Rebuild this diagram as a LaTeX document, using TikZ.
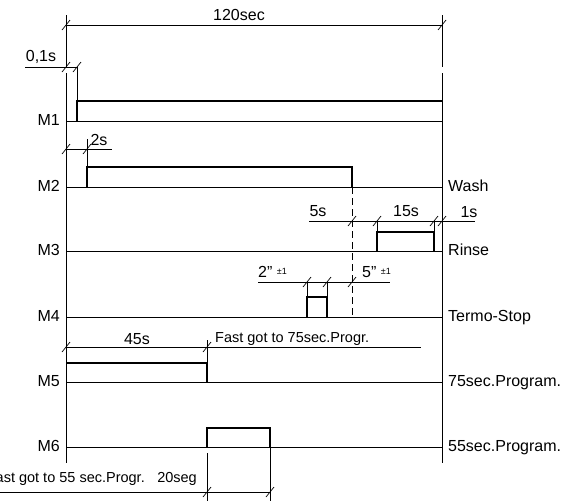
\documentclass[tikz,border=0pt]{standalone}
\usepackage{fontspec}
\setmainfont{Liberation Sans}
\usetikzlibrary{calc}

\tikzset{
  pulse/.style={line width=2.8pt, line join=miter},
  baseln/.style={line width=0.8pt},
  dimln/.style={line width=0.7pt},
  lbl/.style={font=\fontsize{16}{18}\selectfont, inner sep=0pt},
  note/.style={font=\fontsize{14.5}{17}\selectfont, inner sep=0pt},
}
\newcommand{\dimtick}[1]{\draw [dimln] ($(#1)+(-4,5)$) -- ($(#1)+(4,-5)$);}
\newcommand{\tolone}{\raisebox{2.5pt}{\fontsize{9}{10}\selectfont ±1}}

\begin{document}
\begin{tikzpicture}[x=1pt,y=-1pt]
\useasboundingbox (0,0) rectangle (584,501);

% frame
\coordinate (lt) at (66,15);
\coordinate (rt) at (442,15);
\coordinate (lb) at (66,463);
\coordinate (rb) at (442,463);
\draw [baseln] (lt) -- (66,67) (66,73) -- (lb);
\draw [baseln] (rt) -- (442,67) (442,73) -- (rb);

% signal lines
\foreach \i/\y in {1/121,2/187,3/251,4/317,5/382,6/447} {
  \coordinate (m\i) at (66,\y);
  \coordinate (e\i) at (442,\y);
  \draw [baseln] (m\i) -- (e\i);
  \node[lbl, anchor=base east] at ($(m\i)+(-6,4)$) {M\i};
}
\node[lbl, anchor=base west] at ($(e2)+(6,4)$) {Wash};
\node[lbl, anchor=base west] at ($(e3)+(6,4)$) {Rinse};
\node[lbl, anchor=base west] at ($(e4)+(6,4)$) {Termo-Stop};
\node[lbl, anchor=base west] at ($(e5)+(6,4)$) {75sec.Program.};
\node[lbl, anchor=base west] at ($(e6)+(6,4)$) {55sec.Program.};

% pulses
\draw [pulse] (77,121) |- (442,101);
\draw [pulse] (87,187) |- (352,167) -- (352,187);
\draw [pulse] (377,251) |- (434,232) -- (434,251);
\draw [pulse] (307,317) |- (327,297) -- (327,317);
\draw [pulse] (66,363) -| (207,382);
\draw [pulse] (207,447) |- (270,428) -- (270,447);

% 120sec
\coordinate (a1) at (66,25);
\coordinate (a2) at (442,25);
\draw [dimln] (a1) -- (a2);
\dimtick{a1} \dimtick{a2}
\node[lbl, anchor=base] at (239,20) {120sec};

% 0,1s
\coordinate (b1) at (66,67);
\coordinate (b2) at (77,67);
\draw [dimln] (25,67) -- (b2) -- (77,101);
\dimtick{b1} \dimtick{b2}
\node[lbl, anchor=base] at (41,61) {0,1s};

% 2s
\coordinate (c1) at (66,149);
\coordinate (c2) at (87,149);
\draw [dimln] (c1) -- (112,149);
\draw [dimln] (87,139) -- (87,167);
\dimtick{c1} \dimtick{c2}
\node[lbl, anchor=base] at (99,145) {2s};

% 5s 15s 1s
\coordinate (d1) at (352,221);
\coordinate (d2) at (377,221);
\coordinate (d3) at (434,221);
\coordinate (d4) at (442,221);
\draw [dimln] (309,221) -- (475,221);
\draw [dimln] (d2) -- (377,232) (d3) -- (434,232);
\dimtick{d1} \dimtick{d2} \dimtick{d3} \dimtick{d4}
\node[lbl, anchor=base] at (318,216) {5s};
\node[lbl, anchor=base] at (406,216) {15s};
\node[lbl, anchor=base] at (469,217) {1s};
\draw [dimln, dash pattern=on 7pt off 4pt] (352,187) -- (352,317);

% 2" 5"
\coordinate (f1) at (307,282);
\coordinate (f2) at (327,282);
\coordinate (f3) at (352,282);
\draw [dimln] (258,282) -- (390,282);
\draw [dimln] (f1) -- (307,297) (f2) -- (327,297);
\dimtick{f1} \dimtick{f2} \dimtick{f3}
\node[lbl, anchor=base west] at (258,277) {2" \tolone};
\node[lbl, anchor=base west] at (362,277) {5" \tolone};

% 45s
\coordinate (g1) at (66,347);
\coordinate (g2) at (207,347);
\draw [dimln] (g1) -- (421,347);
\draw [dimln] (207,340) -- (207,382);
\dimtick{g1} \dimtick{g2}
\node[lbl, anchor=base] at (137,344) {45s};
\node[note, anchor=base west] at (215,342) {Fast got to 75sec.Progr.};

% 20seg
\coordinate (h1) at (207,492);
\coordinate (h2) at (270,492);
\draw [dimln] (0,492) -- (h2);
\draw [dimln] (207,453) -- (207,501) (270,447) -- (270,501);
\dimtick{h1} \dimtick{h2}
\node[note, anchor=base east] at (145,482) {Fast got to 55 sec.Progr.};
\node[note, anchor=base east] at (197,482) {20seg};
\end{tikzpicture}
\end{document}
